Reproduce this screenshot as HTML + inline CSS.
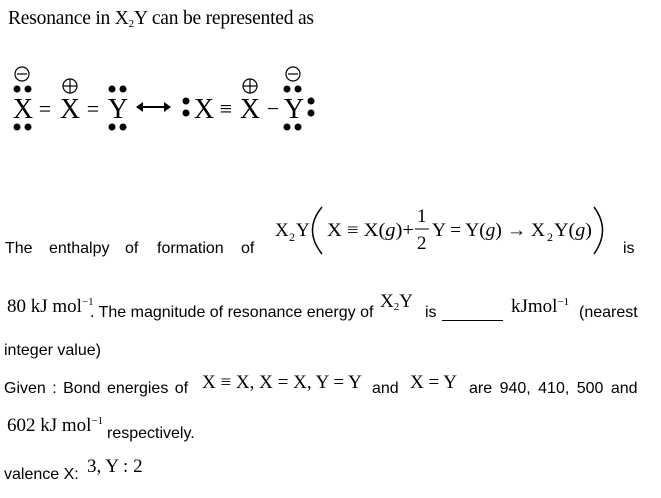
<!DOCTYPE html>
<html><head><style>
body{margin:0;width:661px;height:498px;background:#fff;position:relative;overflow:hidden;color:#000}
.a{position:absolute;white-space:nowrap;line-height:1}
.s{font-family:"Liberation Sans",sans-serif;font-size:16px}
.m{font-family:"Liberation Serif",serif;font-size:19px}
sup{font-size:11px;vertical-align:7px}
sub{font-size:11px;vertical-align:-3px}
i{font-style:italic}
</style></head><body>
<div class="a m" style="left:8px;top:9px;font-size:19.5px;letter-spacing:-0.2px">Resonance in X<sub>2</sub>Y can be represented as</div>

<svg class="a" style="left:0;top:60px" width="330" height="80" viewBox="0 60 330 80">
<g fill="none" stroke="#000" stroke-width="1.2">
<circle cx="22" cy="74" r="7"/><line x1="17" y1="74" x2="27" y2="74"/>
<circle cx="70" cy="86" r="7"/><line x1="63" y1="86" x2="77" y2="86"/><line x1="70" y1="79" x2="70" y2="93"/>
<circle cx="250" cy="86" r="7"/><line x1="243" y1="86" x2="257" y2="86"/><line x1="250" y1="79" x2="250" y2="93"/>
<circle cx="293" cy="74" r="7"/><line x1="288" y1="74" x2="298" y2="74"/>
</g>
<g fill="#000">
<circle cx="17" cy="89" r="3.5"/><circle cx="28" cy="89" r="3.5"/>
<circle cx="17" cy="127" r="3.5"/><circle cx="28" cy="127" r="3.5"/>
<circle cx="112" cy="89" r="3.5"/><circle cx="123" cy="89" r="3.5"/>
<circle cx="112" cy="127" r="3.5"/><circle cx="123" cy="127" r="3.5"/>
<circle cx="287" cy="89" r="3.5"/><circle cx="298" cy="89" r="3.5"/>
<circle cx="287" cy="127" r="3.5"/><circle cx="298" cy="127" r="3.5"/>
<circle cx="186" cy="101" r="3.5"/><circle cx="186" cy="113" r="3.5"/>
<circle cx="311" cy="101" r="3.5"/><circle cx="311" cy="113" r="3.5"/>
<path d="M136 107 L143 102 L143 112 Z"/><path d="M171 107 L164 102 L164 112 Z"/>
</g>
<line x1="140" y1="107" x2="167" y2="107" stroke="#000" stroke-width="2"/>
<g font-family="Liberation Serif,serif" font-size="28" text-anchor="middle">
<text x="23" y="118">X</text><text x="45" y="116" font-size="22">=</text>
<text x="70" y="118">X</text><text x="93" y="116" font-size="22">=</text>
<text x="118" y="118">Y</text>
<text x="204" y="118">X</text><text x="226" y="116" font-size="22">≡</text>
<text x="250" y="118">X</text><text x="273" y="116" font-size="22">−</text>
<text x="294" y="118">Y</text>
</g>
</svg>

<!-- line 1 -->
<div class="a s" style="left:5px;top:241px">The</div>
<div class="a s" style="left:49px;top:241px">enthalpy</div>
<div class="a s" style="left:125px;top:241px">of</div>
<div class="a s" style="left:157px;top:241px">formation</div>
<div class="a s" style="left:241px;top:241px">of</div>
<div class="a s" style="left:623px;top:241px">is</div>
<svg class="a" style="left:260px;top:195px" width="360" height="70" viewBox="260 195 360 70" font-family="Liberation Serif,serif" font-size="19">
<text x="275" y="236">X</text><text x="289" y="241" font-size="12">2</text><text x="296" y="236">Y</text>
<path d="M322 207 Q303 230 322 254" fill="none" stroke="#000" stroke-width="1.5"/>
<text x="327" y="236" textLength="87" lengthAdjust="spacingAndGlyphs">X ≡ X(<tspan font-style="italic">g</tspan>)+</text>
<text x="417" y="222">1</text><line x1="415" y1="229" x2="429" y2="229" stroke="#000"/><text x="417" y="249">2</text>
<text x="432" y="236" textLength="113" lengthAdjust="spacingAndGlyphs">Y = Y(<tspan font-style="italic">g</tspan>) → X</text>
<text x="547" y="241" font-size="12">2</text><text x="554" y="236" textLength="38" lengthAdjust="spacingAndGlyphs">Y(<tspan font-style="italic">g</tspan>)</text>
<path d="M594 207 Q611 230 594 254" fill="none" stroke="#000" stroke-width="1.5"/>
</svg>

<!-- line 2 -->
<div class="a m" style="left:7px;top:297px">80 kJ mol<sup>−1</sup></div>
<div class="a s" style="left:90px;top:305px">. The magnitude of resonance energy of</div>
<div class="a m" style="left:380px;top:292px">X<sub>2</sub>Y</div>
<div class="a s" style="left:425px;top:305px">is</div>
<div class="a" style="left:442px;top:320px;width:61px;border-top:1px solid #000"></div>
<div class="a m" style="left:511px;top:297px">kJmol<sup>−1</sup></div>
<div class="a s" style="left:579px;top:305px">(nearest</div>
<!-- line 3 -->
<div class="a s" style="left:4px;top:343px">integer value)</div>
<!-- line 4 -->
<div class="a s" style="left:4px;top:381px;word-spacing:2px">Given : Bond energies of</div>
<div class="a m" style="left:202px;top:373px">X ≡ X, X = X, Y = Y</div>
<div class="a s" style="left:372px;top:381px">and</div>
<div class="a m" style="left:410px;top:373px">X = Y</div>
<div class="a s" style="left:469px;top:381px;word-spacing:3px">are 940, 410, 500 and</div>
<!-- line 5 -->
<div class="a m" style="left:7px;top:416px">602 kJ mol<sup>−1</sup></div>
<div class="a s" style="left:107px;top:426px">respectively.</div>
<!-- line 6 -->
<div class="a s" style="left:4px;top:467px">valence X:</div>
<div class="a m" style="left:87px;top:457px">3, Y : 2</div>
</body></html>
